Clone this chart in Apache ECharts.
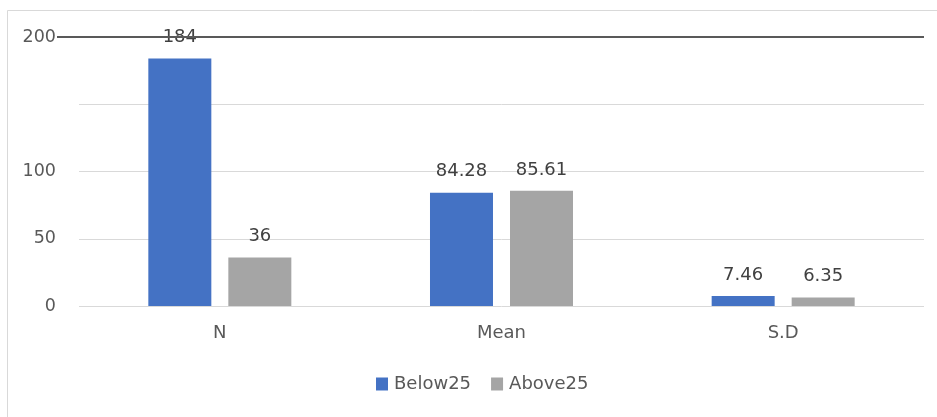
<!DOCTYPE html>
<html>
<head>
<meta charset="utf-8">
<script src="https://cdn.jsdelivr.net/npm/echarts@6/dist/echarts.min.js"></script>
<style>
  html, body { margin: 0; padding: 0; background: #fff; }
  #chart { width: 937px; height: 417px; }
</style>
</head>
<body>
<div id="chart"></div>
<script>
// Group statistics by age band
const categories = ['N', 'Mean', 'S.D'];
const below25 = [184, 84.28, 7.46];
const above25 = [36, 85.61, 6.35];
const seriesNames = ['Below25', 'Above25'];
const yTicks = [0, 50, 100, 200]; // labelled ticks on the value axis

const FONT = 'DejaVu Sans';
const TEXT = '#595959';

const chart = echarts.init(document.getElementById('chart'), null, { renderer: 'canvas' });

const labelStyle = {
  show: true,
  position: 'top',
  distance: 12,
  color: '#404040',
  fontFamily: FONT,
  fontSize: 18
};

chart.setOption({
  animation: false,
  backgroundColor: '#ffffff',
  grid: { left: 79, right: 13, top: 37, bottom: 111, containLabel: false },
  legend: {
    bottom: 19,
    left: 371,
    itemWidth: 12,
    itemHeight: 13,
    itemGap: 20,
    icon: 'rect',
    textStyle: { color: TEXT, fontFamily: FONT, fontSize: 18, padding: [0, 0, 0, 1] },
    data: seriesNames
  },
  xAxis: {
    type: 'category',
    data: categories,
    axisLine: { show: false },
    axisTick: { show: false },
    axisLabel: { color: TEXT, fontFamily: FONT, fontSize: 18, margin: 18 }
  },
  yAxis: {
    type: 'value',
    min: 0,
    max: 200,
    interval: 50,
    axisLine: { show: false },
    axisTick: { show: false },
    axisLabel: {
      color: TEXT,
      fontFamily: FONT,
      fontSize: 17.5,
      margin: 23,
      formatter: v => (yTicks.indexOf(v) >= 0 ? String(v) : '')
    },
    splitLine: { lineStyle: { color: '#d9d9d9', width: 1 } }
  },
  series: [
    {
      name: seriesNames[0],
      type: 'bar',
      data: below25,
      barWidth: 63,
      barGap: '27%',
      itemStyle: { color: '#4472C4' },
      label: labelStyle
    },
    {
      name: seriesNames[1],
      type: 'bar',
      data: above25,
      barWidth: 63,
      itemStyle: { color: '#A5A5A5' },
      label: labelStyle
    }
  ]
});

// Dark rule at the axis maximum, reaching left to its tick label, plus the outer frame
const yTop = chart.convertToPixel({ yAxisIndex: 0 }, 200);
const gridRight = chart.getWidth() - 13;
chart.setOption({
  graphic: [
    {
      type: 'rect',
      shape: { x: 7.5, y: 10.5, width: 940, height: 420 },
      style: { fill: null, stroke: '#d9d9d9', lineWidth: 1 },
      silent: true,
      z: 0
    },
    {
      type: 'line',
      shape: { x1: 57, y1: yTop, x2: gridRight, y2: yTop },
      style: { stroke: '#595959', lineWidth: 2 },
      silent: true,
      z: 100
    }
  ]
});
</script>
</body>
</html>
